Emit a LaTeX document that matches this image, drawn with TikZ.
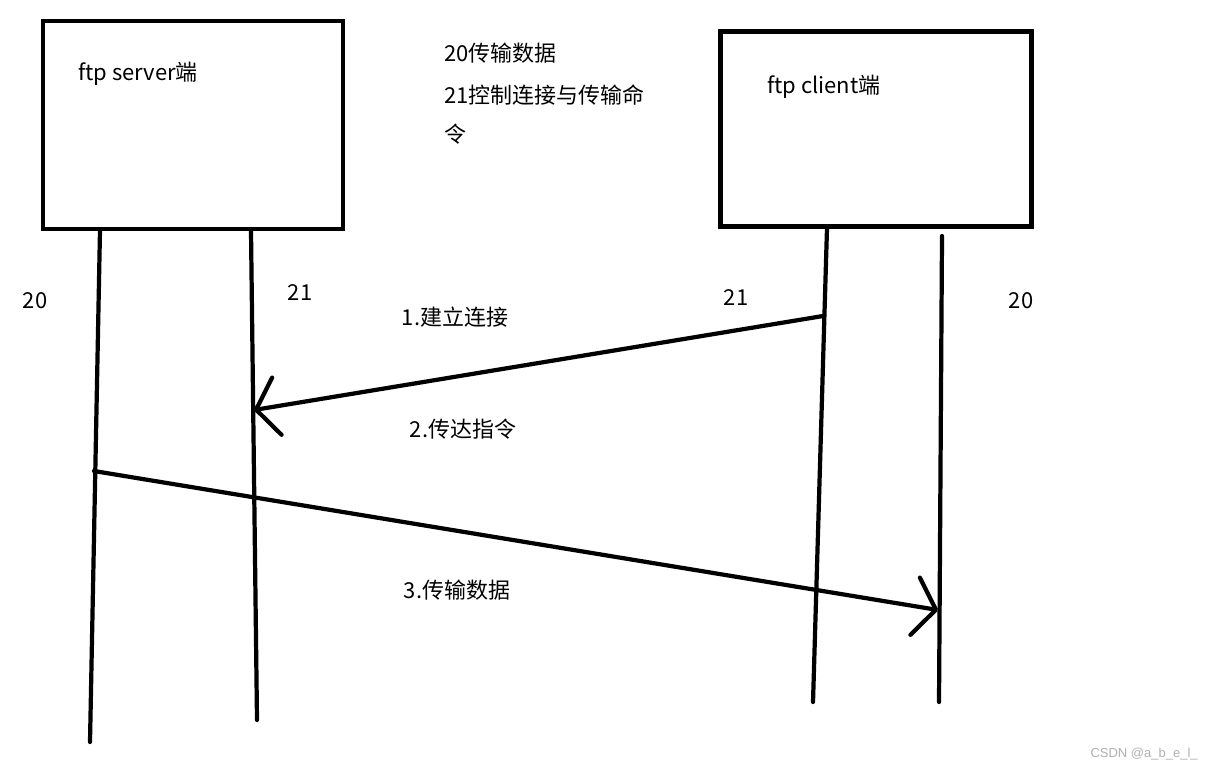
\documentclass[tikz,border=0pt]{standalone}
\usepackage{fontspec}
\setmainfont{Noto Sans CJK SC}
\newfontfamily\markfont{Liberation Sans}
\usetikzlibrary{arrows.meta, positioning}
\definecolor{inkline}{RGB}{0,0,0}
\definecolor{markgray}{RGB}{175,175,175}
\tikzset{
  box/.style={rectangle, draw=inkline, line width=2.7pt, inner sep=0pt},
  life/.style={draw=inkline, line width=2.4pt, line cap=round},
  msg/.style={life, -{Straight Barb[length=12pt, width=33pt, round]}},
  lbl/.style={font=\fontsize{12.5}{15}\selectfont, inner sep=0pt},
  wmark/.style={font=\markfont\fontsize{7.4}{9}\selectfont, text=markgray, inner sep=0pt}
}
\begin{document}
\begin{tikzpicture}[x=0.02cm, y=-0.02cm]
  \useasboundingbox (0,0) rectangle (1212,771);

  %% ── два конца ─────────────────────────────
  \node[box, minimum width=6cm,    minimum height=4.16cm] (srv) at (193,125) {};
  \node[box, minimum width=6.23cm, minimum height=3.9cm]  (cli) at (876,129) {};
  \node[lbl, anchor=west] (srvname) at (78,74) {ftp server端};
  \node[lbl, anchor=west] (cliname) at (767,87) {ftp client端};

  %% ── пояснение портов ──────────────────────
  \node[lbl, anchor=west] (info1) at (444,53)  {20传输数据};
  \node[lbl, anchor=west] (info2) at (444,95)  {21控制连接与传输命};
  \node[lbl, anchor=west] (info3) at (444,134) {令};

  %% ── линии портов ──────────────────────────
  \coordinate (s20top) at (100,230);  \coordinate (s20bot) at (90,742);
  \coordinate (s21top) at (251,231);  \coordinate (s21bot) at (257,720);
  \coordinate (c21top) at (827,228);  \coordinate (c21bot) at (813,702);
  \coordinate (c20top) at (942,236);  \coordinate (c20bot) at (939,702);
  \draw[life] (s20top) -- (s20bot);
  \draw[life] (s21top) -- (s21bot);
  \draw[life] (c21top) -- (c21bot);
  \draw[life] (c20top) -- (c20bot);

  \node[lbl] (s20lbl) at (35,301)   {20};
  \node[lbl] (s21lbl) at (300,293)  {21};
  \node[lbl] (c21lbl) at (736,298)  {21};
  \node[lbl] (c20lbl) at (1021,301) {20};

  %% ── сообщения ─────────────────────────────
  \coordinate (m1from) at (823,316);  \coordinate (m1to) at (254,410);
  \coordinate (m3from) at (94,471);   \coordinate (m3to) at (938,610);
  \draw[msg] (m1from) -- (m1to);
  \draw[msg] (m3from) -- (m3to);

  \node[lbl] (step1) at (455,317) {1.建立连接};
  \node[lbl] (step2) at (463,429) {2.传达指令};
  \node[lbl] (step3) at (457,590) {3.传输数据};

  \node[wmark, anchor=east] (wm) at (1198,754) {CSDN @a\_b\_e\_l\_};
\end{tikzpicture}
\end{document}
